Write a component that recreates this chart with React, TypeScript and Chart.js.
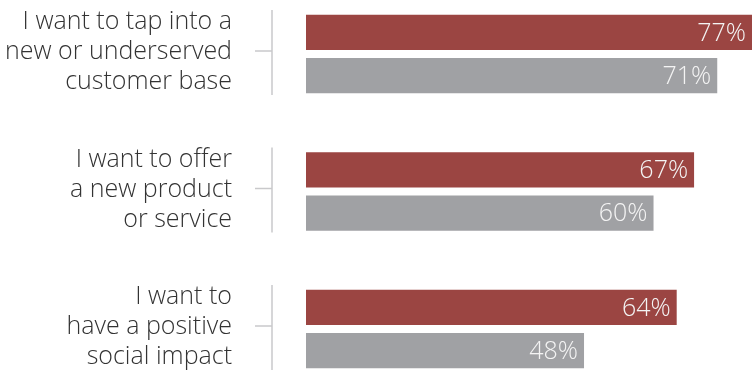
import React, { useEffect, useRef } from "react";
import { Chart, registerables } from "chart.js";

Chart.register(...registerables);

const categories: string[][] = [
  ["I want to tap into a", "new or underserved", "customer base"],
  ["I want to offer", "a new product", "or service"],
  ["I want to", "have a positive", "social impact"],
];
const seriesRed: number[] = [77, 67, 64];
const seriesGray: number[] = [71, 60, 48];
const seriesNames: string[] = ["Red", "Gray"];

const FONT = "'Open Sans', 'Noto Sans', sans-serif";

const bracketPlugin = {
  id: "brackets",
  afterDraw(chart: any) {
    const ctx = chart.ctx;
    const y = chart.scales.y;
    const x0 = y.right - 34;
    ctx.save();
    ctx.strokeStyle = "#c9c9cb";
    ctx.lineWidth = 1.5;
    for (let i = 0; i < y.ticks.length; i++) {
      const yc = y.getPixelForTick(i);
      ctx.beginPath();
      ctx.moveTo(x0, yc - 44);
      ctx.lineTo(x0, yc + 41);
      ctx.moveTo(x0 - 17, yc - 3);
      ctx.lineTo(x0, yc - 3);
      ctx.stroke();
    }
    ctx.restore();
  },
};

const valuePlugin = {
  id: "values",
  afterDatasetsDraw(chart: any) {
    const ctx = chart.ctx;
    ctx.save();
    ctx.fillStyle = "#f4f4f4";
    ctx.font = `300 25px ${FONT}`;
    ctx.textAlign = "right";
    ctx.textBaseline = "middle";
    chart.data.datasets.forEach((ds: any, di: number) => {
      const meta = chart.getDatasetMeta(di);
      meta.data.forEach((el: any, i: number) => {
        ctx.fillText(`${ds.data[i]}%`, el.x - 6, el.y + 1);
      });
    });
    ctx.restore();
  },
};

export default function App() {
  const ref = useRef<HTMLCanvasElement | null>(null);
  useEffect(() => {
    if (!ref.current) return;
    const chart = new Chart(ref.current, {
      type: "bar",
      data: {
        labels: categories,
        datasets: [
          {
            label: seriesNames[0],
            data: seriesRed,
            backgroundColor: "#9b4542",
            categoryPercentage: 0.628,
            barPercentage: 0.814,
            clip: false as any,
          },
          {
            label: seriesNames[1],
            data: seriesGray,
            backgroundColor: "#a0a1a4",
            categoryPercentage: 0.628,
            barPercentage: 0.814,
            clip: false as any,
          },
        ],
      },
      options: {
        indexAxis: "y",
        animation: false,
        responsive: false,
        maintainAspectRatio: false,
        layout: { padding: { top: 54, bottom: 48, left: 0, right: 0 } },
        plugins: {
          legend: { display: false },
          tooltip: { enabled: false },
        },
        scales: {
          x: { display: false, min: 0, max: 77 },
          y: {
            offset: false,
            grid: { display: false, drawTicks: false },
            border: { display: false },
            ticks: {
              padding: 74,
              color: "#333333",
              labelOffset: -2,
              font: { family: FONT, size: 25, weight: 300 as any, lineHeight: 1.2 },
            },
            afterFit(scale: any) {
              scale.width = 306;
              scale.paddingTop = 0;
              scale.paddingBottom = 0;
            },
          },
        },
      },
      plugins: [bracketPlugin, valuePlugin],
    });
    return () => chart.destroy();
  }, []);
  return (
    <div style={{ position: "absolute", left: 0, top: 0, width: 752, height: 377, background: "#fff" }}>
      <canvas ref={ref} width={752} height={377} style={{ width: 752, height: 377, display: "block" }} />
    </div>
  );
}
